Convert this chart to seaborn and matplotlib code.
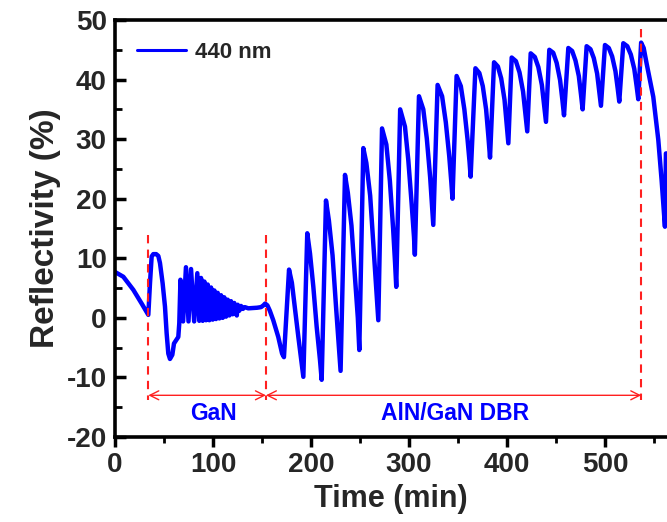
import matplotlib
matplotlib.use("Agg")
import matplotlib.pyplot as plt
from matplotlib.ticker import MultipleLocator
import seaborn as sns
import pandas as pd

# ---- data ----
gan_time = [0, 8.5, 18.7, 27.2, 34.0, 35.7, 37.4, 39.1, 42.0, 44.2, 45.9, 48.6, 51.0,
            52.7, 54.4, 56.1, 58.5, 60.2, 63.0, 64.6, 65.6, 66.8, 69.5, 72.4, 75.0,
            77.6, 80.8, 84.0, 86.0, 87.8, 89.5, 91.2, 92.9, 94.6, 96.3, 98.0, 99.7,
            101.4, 103.1, 104.8, 106.5, 108.2, 109.9, 111.5, 113.3, 115.0, 116.7,
            118.4, 120.0, 121.7, 123.3, 124.3, 125.2, 126.9, 128.6, 130.5, 132.5,
            136.0, 140.0, 145.0, 149.0, 151.5, 153.2, 155.5, 158.0, 161.5, 166.6,
            170.5]
gan_refl = [7.7, 6.9, 4.7, 2.4, 0.5, 5.8, 10.3, 10.7, 10.7, 10.4, 9.2, 5.8, 1.9,
            -2.6, -6.0, -6.9, -6.2, -4.3, -3.6, -3.2, -0.9, 6.4, -0.6, 8.5, -0.6,
            8.2, -0.6, 7.5, -0.5, 6.7, -0.5, 6.1, -0.4, 5.6, -0.4, 5.1, -0.3,
            4.6, -0.2, 4.2, -0.1, 3.8, 0.0, 3.45, 0.2, 3.05, 0.4,
            2.8, 0.6, 2.5, 0.9, 0.4, 2.2, 1.2, 2.0, 1.5, 1.8,
            1.6, 1.65, 1.7, 1.8, 2.1, 2.4, 2.1, 1.2, -0.4, -3.2,
            -6.0]

dbr_time = [172.4, 177.6, 180.5, 187.1, 192.2, 196.2, 199.0, 202.4, 205.8, 209.2,
            210.9, 215.3, 218.3, 222.0, 225.5, 228.5, 230.2, 234.7, 237.6, 241.3,
            244.8, 247.8, 249.3, 253.4, 256.5, 260.4, 263.8, 267.1, 268.7, 272.5,
            276.9, 280.5, 283.8, 285.8, 287.0, 291.0, 295.9, 299.3, 302.7, 305.1,
            306.0, 310.2, 314.6, 318.2, 321.6, 323.7, 324.8, 329.2, 333.8, 337.6,
            341.1, 343.2, 344.4, 348.6, 352.9, 356.5, 359.8, 361.8, 362.9, 367.8,
            371.8, 375.3, 378.7, 381.1, 382.7, 386.8, 390.7, 394.1, 397.5, 399.8,
            401.4, 404.8, 409.1, 412.8, 416.4, 418.9, 420.7, 424.2, 428.4, 432.0,
            435.6, 438.1, 439.8, 443.2, 447.2, 450.7, 454.2, 456.6, 458.2, 462.6,
            466.5, 469.9, 473.3, 475.6, 477.2, 481.3, 485.2, 488.6, 492.0, 494.3,
            495.9, 500.0, 503.9, 507.3, 510.7, 513.0, 514.6, 518.7, 522.8, 526.4,
            529.9, 532.3, 534.0, 536.9, 539.5, 542.5, 549.3, 554.4, 557.8, 561.2,
            562.2, 566.0]
dbr_refl = [-6.6, 8.1, 5.9, -3.2, -9.9, 14.2, 10.8, 5.2, -1.5, -7.1,
            -10.4, 19.7, 16.3, 10.5, 2.0, -5.0, -8.9, 24.0, 21.0, 15.5,
            7.0, 0.0, -5.4, 28.5, 26.0, 20.5, 12.0, 4.0, -0.4, 31.8,
            29.1, 23.0, 15.0, 9.2, 5.2, 35.0, 32.1, 26.5, 19.2, 13.6,
            10.6, 37.2, 35.0, 30.1, 23.6, 18.5, 15.6, 39.1, 37.2, 32.8,
            27.1, 22.8, 20.0, 40.6, 38.9, 35.0, 29.9, 26.2, 23.7, 41.9,
            41.1, 38.9, 35.0, 30.3, 26.9, 42.9, 42.2, 40.2, 36.6, 32.4,
            29.3, 43.7, 43.1, 41.2, 38.0, 34.2, 31.3, 44.4, 43.8, 42.1,
            39.1, 35.5, 32.9, 45.0, 44.5, 42.8, 39.9, 36.5, 34.0, 45.3,
            44.8, 43.2, 40.6, 37.4, 35.0, 45.6, 45.1, 43.6, 41.0, 37.9,
            35.6, 45.8, 45.3, 43.9, 41.4, 38.5, 36.3, 46.1, 45.6, 44.2,
            41.8, 38.9, 36.7, 46.2, 45.3, 42.7, 37.1, 29.9, 23.1, 15.3,
            27.6, 27.6]

boundary_times = [34, 154, 537]
boundary_tops = [13.9, 13.9, 48.5]
region_labels = ["GaN", "AlN/GaN DBR"]
series_label = "440 nm"

df = pd.DataFrame({"Time (min)": gan_time + dbr_time,
                   "Reflectivity (%)": gan_refl + dbr_refl})

sns.set_theme(style="white")
plt.rcParams["font.family"] = ["Liberation Sans", "DejaVu Sans"]
plt.rcParams["font.weight"] = "bold"
plt.rcParams["axes.unicode_minus"] = False

fig = plt.figure(figsize=(6.67, 5.22), dpi=100)
ax = fig.add_axes([115 / 667, 1 - 437 / 522, 1 - 115 / 667, (437 - 20) / 522])

sns.lineplot(data=df, x="Time (min)", y="Reflectivity (%)", ax=ax,
             color="#0000FF", linewidth=3.2, label=series_label,
             sort=False, estimator=None, solid_joinstyle="round")

ax.set_xlim(0, 563.3)
ax.set_ylim(-20, 50)

for side in ["left", "bottom", "top"]:
    ax.spines[side].set_color("black")
    ax.spines[side].set_linewidth(2.6)
ax.spines["right"].set_visible(False)

ax.xaxis.set_major_locator(MultipleLocator(100))
ax.xaxis.set_minor_locator(MultipleLocator(50))
ax.yaxis.set_major_locator(MultipleLocator(10))
ax.yaxis.set_minor_locator(MultipleLocator(5))
ax.tick_params(axis="x", which="major", direction="out", length=7, width=2.5,
               labelsize=20, color="black", bottom=True, pad=4)
ax.tick_params(axis="x", which="minor", direction="out", length=4, width=2,
               color="black", bottom=True)
ax.tick_params(axis="y", which="major", direction="in", length=8, width=2.5,
               labelsize=20, color="black", left=True, pad=6)
ax.tick_params(axis="y", which="minor", direction="in", length=5, width=2,
               color="black", left=True)
for lab in ax.get_xticklabels() + ax.get_yticklabels():
    lab.set_fontweight("bold")

ax.set_xlabel("Time (min)", fontsize=22, fontweight="bold", labelpad=4)
ax.set_ylabel("Reflectivity (%)", fontsize=24, fontweight="bold", labelpad=4)

# boundary markers
for t, top in zip(boundary_times, boundary_tops):
    ax.plot([t, t], [top, -13.8], color="#FF2020", linestyle=(0, (4, 3)),
            linewidth=1.5)
arrow_y = -13.0
for (a, b) in [(boundary_times[0], boundary_times[1]),
               (boundary_times[1], boundary_times[2])]:
    ax.annotate("", xy=(a, arrow_y), xytext=(b, arrow_y),
                arrowprops=dict(arrowstyle="<->", color="#FF2020", lw=1.0,
                                mutation_scale=16, shrinkA=0, shrinkB=0))
ax.text(100, -16.0, region_labels[0], color="#0000FF", fontsize=16.5,
        fontweight="bold", ha="center", va="center")
ax.text(347, -16.0, region_labels[1], color="#0000FF", fontsize=16.5,
        fontweight="bold", ha="center", va="center")

leg = ax.legend(loc="upper left", bbox_to_anchor=(0.012, 0.985), frameon=False,
                prop={"size": 16, "weight": "bold"}, handlelength=2.2,
                handletextpad=0.4, borderaxespad=0.3)
for h in leg.get_lines():
    h.set_linewidth(2.2)

fig.savefig("out.png", dpi=100)
